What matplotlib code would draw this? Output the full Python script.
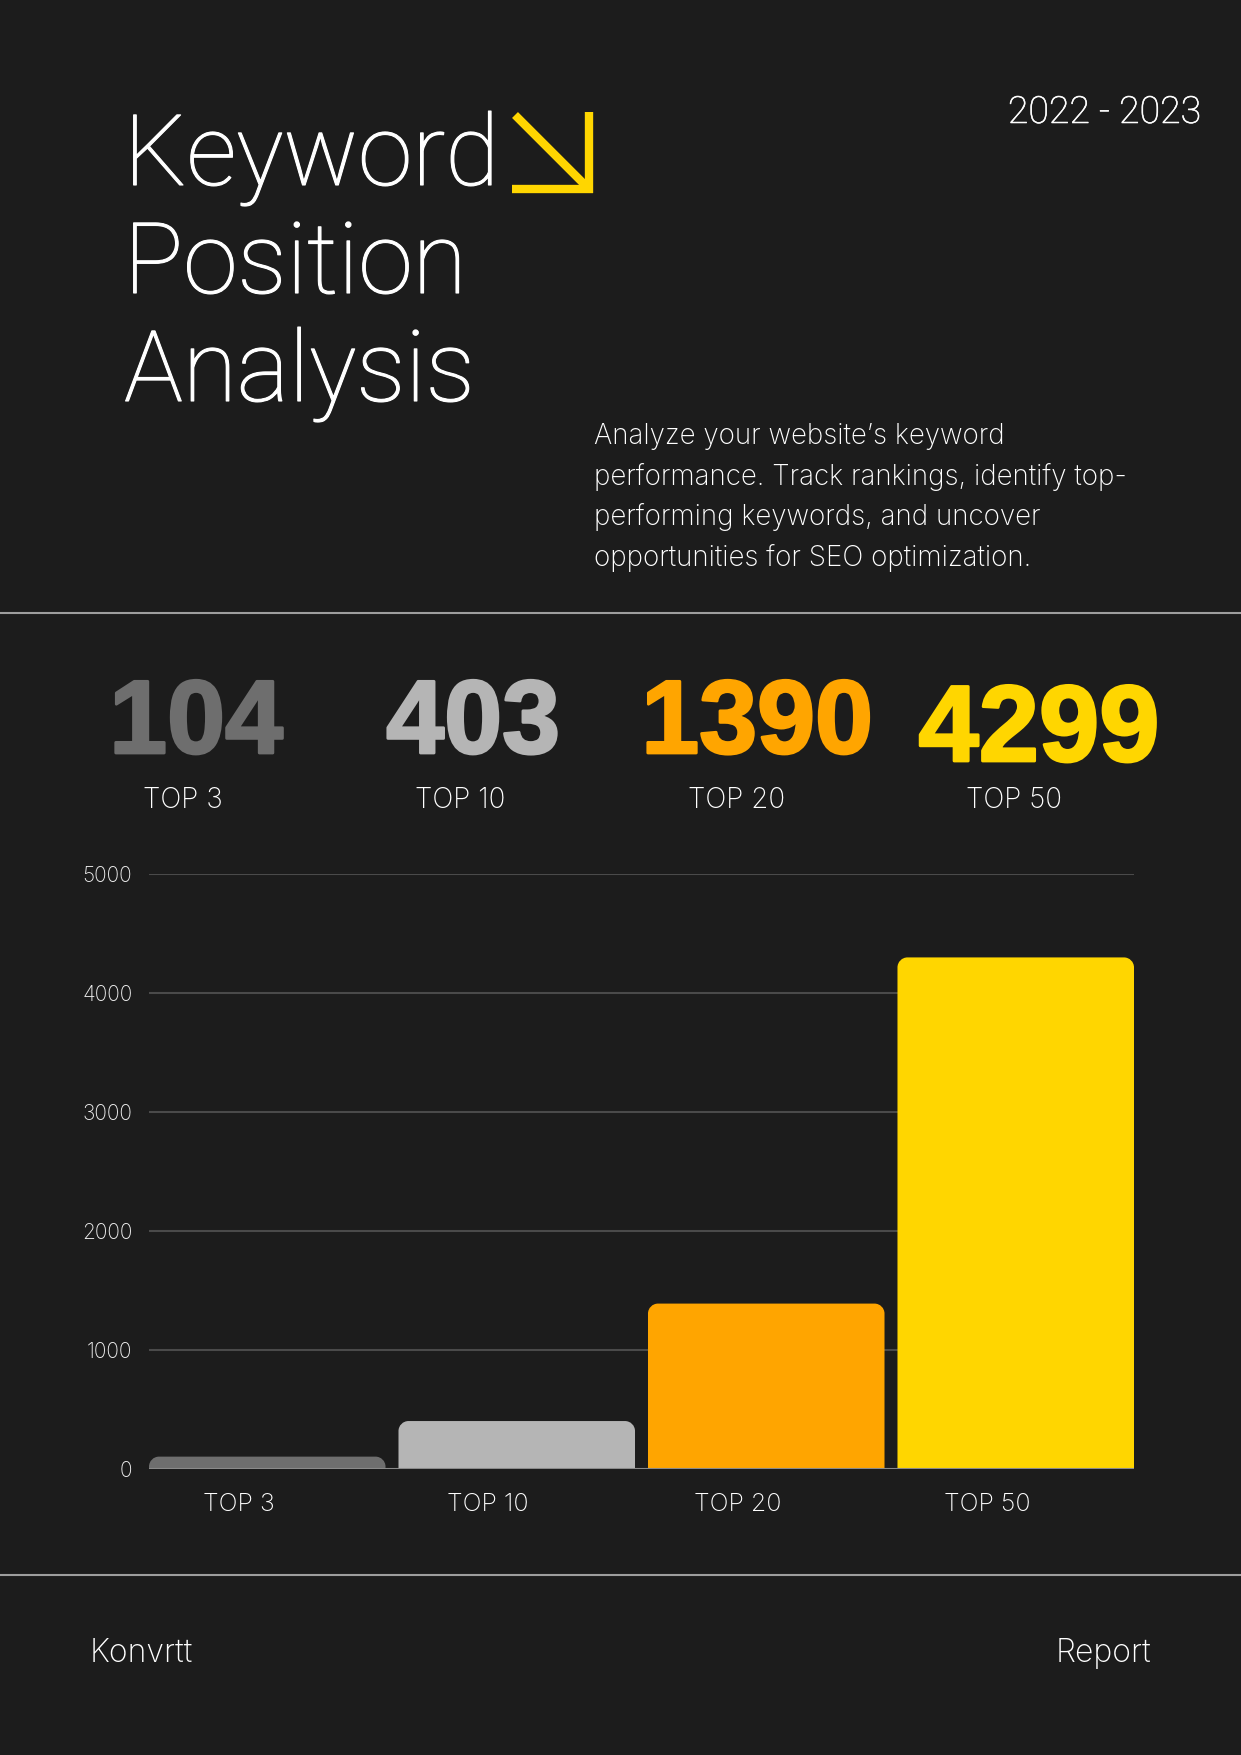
import numpy as np
import matplotlib.pyplot as plt
import matplotlib.patheffects as pe
from matplotlib.path import Path
from matplotlib.patches import PathPatch
from matplotlib.lines import Line2D

# Data
categories = ['TOP 3', 'TOP 10', 'TOP 20', 'TOP 50']
counts = [104, 403, 1390, 4299]
bar_colors = ['#6E6E6E', '#B5B5B5', '#FFA500', '#FFD600']
y_ticks = [0, 1000, 2000, 3000, 4000, 5000]
title_lines = ['Keyword', 'Position', 'Analysis']
desc_lines = ["Analyze your website\u2019s keyword",
              "performance. Track rankings, identify top-",
              "performing keywords, and uncover",
              "opportunities for SEO optimization."]

BG = '#1C1C1C'
W, H = 1241, 1755
TITLE = ['Roboto', 'DejaVu Sans']
LIGHT = ['Inter', 'DejaVu Sans']
BOLD = ['Liberation Sans', 'DejaVu Sans']

fig = plt.figure(figsize=(W / 100, H / 100), dpi=100, facecolor=BG)


def px(x, y):
    return x / W, 1 - y / H


# Title
for i, line in enumerate(title_lines):
    fig.text(*px(124, 185 + i * 108), line, color='white', fontsize=71,
             family=TITLE, fontweight='light', va='baseline', ha='left',
             path_effects=[pe.withStroke(linewidth=0.8, foreground='white')])

# Arrow icon
gold = '#FFD600'
for xs, ys in [([515, 587], [115, 187]), ([589, 589], [112, 193]), ([512, 593], [189, 189])]:
    fx = [px(x, 0)[0] for x in xs]
    fy = [px(0, y)[1] for y in ys]
    fig.add_artist(Line2D(fx, fy, color=gold, lw=6, solid_capstyle='butt',
                          transform=fig.transFigure))

fig.text(*px(1201, 123), '2022 - 2023', color='white', fontsize=27,
         family=TITLE, fontweight='light', va='baseline', ha='right',
         path_effects=[pe.withStroke(linewidth=0.4, foreground='white')])

for i, line in enumerate(desc_lines):
    fig.text(*px(594, 444 + i * 40.7), line, color='white', fontsize=20,
             family=LIGHT, fontweight='light', va='baseline', ha='left')

# Separators
for y in [613, 1575]:
    fig.add_artist(Line2D([0, 1], [px(0, y)[1]] * 2, color='#9E9E9E', lw=1.5,
                          transform=fig.transFigure))

# Big numbers
num_x = [196, 473, 757, 1039]
num_base = [753, 753, 753, 761]
num_size = [75, 75, 75, 78]
label_x = [183, 460, 737, 1014]
for i in range(len(counts)):
    fig.text(*px(num_x[i], num_base[i]), str(counts[i]), color=bar_colors[i],
             fontsize=num_size[i], family=BOLD, fontweight='bold',
             va='baseline', ha='center',
             path_effects=[pe.withStroke(linewidth=2, foreground=bar_colors[i])])
    fig.text(*px(label_x[i], 808), categories[i], color='white', fontsize=20,
             family=LIGHT, fontweight='light', va='baseline', ha='center')

# Chart
left, right, top, bottom = 149, 1134, 874, 1469
ax = fig.add_axes([left / W, 1 - bottom / H, (right - left) / W, (bottom - top) / H])
ax.set_facecolor(BG)
bw = 0.948
x = np.arange(len(categories))
ax.set_xlim(-bw / 2, x[-1] + bw / 2)
ax.set_ylim(0, 5000)
for s in ax.spines.values():
    s.set_visible(False)
ax.set_yticks(y_ticks)
ax.set_yticklabels([str(t) for t in y_ticks], family=LIGHT, fontweight='light')
ax.tick_params(axis='y', length=0, pad=12, labelsize=15, labelcolor='#EEEEEE')
ax.set_xticks(x - 0.115)
ax.set_xticklabels(categories, family=LIGHT, fontweight='light')
ax.tick_params(axis='x', length=0, pad=17, labelsize=18, labelcolor='white')
for t in y_ticks[1:]:
    ax.axhline(t, color='#4A4A4A', lw=1.5, zorder=0)

# rounded-top bars
px_per_x = (right - left) / (ax.get_xlim()[1] - ax.get_xlim()[0])
px_per_y = (bottom - top) / 5000
r = 10
rx, ry = r / px_per_x, r / px_per_y
k = 0.5523
for xi, h, c in zip(x, counts, bar_colors):
    x0, x1 = xi - bw / 2, xi + bw / 2
    ryy = min(ry, h)
    verts = [(x0, 0), (x0, h - ryy),
             (x0, h - ryy + k * ryy), (x0 + rx - k * rx, h), (x0 + rx, h),
             (x1 - rx, h),
             (x1 - rx + k * rx, h), (x1, h - ryy + k * ryy), (x1, h - ryy),
             (x1, 0), (x0, 0)]
    codes = [Path.MOVETO, Path.LINETO,
             Path.CURVE4, Path.CURVE4, Path.CURVE4,
             Path.LINETO,
             Path.CURVE4, Path.CURVE4, Path.CURVE4,
             Path.LINETO, Path.CLOSEPOLY]
    ax.add_patch(PathPatch(Path(verts, codes), facecolor=c, edgecolor='none', zorder=2))

ax.axhline(0, color='#8A8A8A', lw=1.5, zorder=3)

# Footer
fig.text(*px(90, 1662), 'Konvrtt', color='white', fontsize=23,
         family=LIGHT, fontweight='light', va='baseline', ha='left')
fig.text(*px(1151, 1662), 'Report', color='white', fontsize=23,
         family=LIGHT, fontweight='light', va='baseline', ha='right')

fig.savefig('out.png', dpi=100, facecolor=BG)
